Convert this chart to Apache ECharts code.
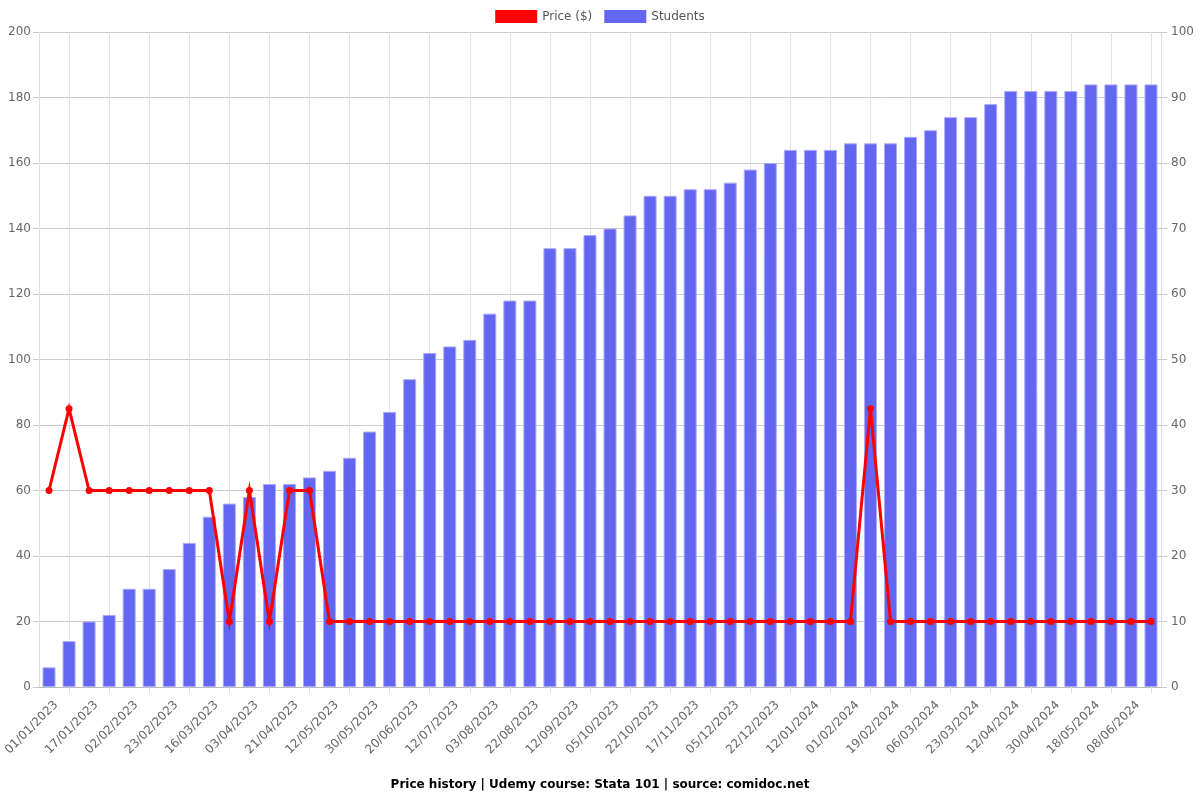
<!DOCTYPE html>
<html>
<head>
<meta charset="utf-8">
<script src="https://cdn.jsdelivr.net/npm/echarts@6/dist/echarts.min.js"></script>
<style>html,body{margin:0;padding:0;background:#fff}#c{width:1200px;height:800px}</style>
</head>
<body>
<div id="c"></div>
<script>
const categories = [
  '01/01/2023','09/01/2023','17/01/2023','25/01/2023','02/02/2023','12/02/2023','23/02/2023','05/03/2023',
  '16/03/2023','25/03/2023','03/04/2023','12/04/2023','21/04/2023','01/05/2023','12/05/2023','21/05/2023',
  '30/05/2023','09/06/2023','20/06/2023','01/07/2023','12/07/2023','23/07/2023','03/08/2023','13/08/2023',
  '22/08/2023','01/09/2023','12/09/2023','23/09/2023','05/10/2023','13/10/2023','22/10/2023','03/11/2023',
  '17/11/2023','26/11/2023','05/12/2023','13/12/2023','22/12/2023','01/01/2024','12/01/2024','22/01/2024',
  '01/02/2024','10/02/2024','19/02/2024','26/02/2024','06/03/2024','14/03/2024','23/03/2024','02/04/2024',
  '12/04/2024','21/04/2024','30/04/2024','09/05/2024','18/05/2024','28/05/2024','08/06/2024','18/06/2024'
];
const priceValues = [
  60,85,60,60,60,60,60,60,60,20,60,20,60,60,20,20,
  20,20,20,20,20,20,20,20,20,20,20,20,20,20,20,20,
  20,20,20,20,20,20,20,20,20,85,20,20,20,20,20,20,
  20,20,20,20,20,20,20,20
];
const studentValues = [
  3,7,10,11,15,15,18,22,26,28,29,31,31,32,33,35,
  39,42,47,51,52,53,57,59,59,67,67,69,70,72,75,75,
  76,76,77,79,80,82,82,82,83,83,83,84,85,87,87,89,
  91,91,91,91,92,92,92,92
];
const titleText = 'Price history | Udemy course: Stata 101 | source: comidoc.net';

const font = 'DejaVu Sans';
const chart = echarts.init(document.getElementById('c'), null, {renderer: 'canvas'});
chart.setOption({
  animation: false,
  textStyle: {fontFamily: font},
  title: {
    text: titleText,
    left: 'center',
    bottom: 4,
    textStyle: {fontFamily: font, fontSize: 12, fontWeight: 'bold', color: '#000'}
  },
  legend: {
    top: 5,
    left: 'center',
    itemWidth: 42,
    itemHeight: 13,
    itemGap: 12,
    textStyle: {fontFamily: font, fontSize: 12, color: '#555'},
    data: [
      {name: 'Price ($)', icon: 'rect', itemStyle: {color: '#ff0000', borderWidth: 0}},
      {name: 'Students', icon: 'rect', itemStyle: {color: '#6366f1', borderWidth: 0}}
    ]
  },
  grid: {left: 39, right: 39, top: 32, bottom: 113, containLabel: false, outerBoundsMode: 'none'},
  xAxis: {
    type: 'category',
    data: categories,
    boundaryGap: true,
    axisLine: {lineStyle: {color: '#bbb'}},
    axisTick: {show: true, alignWithLabel: true, interval: (i) => i % 2 === 1, length: 6, lineStyle: {color: '#ddd'}},
    splitLine: {show: true, alignWithLabel: true, interval: (i) => i % 2 === 1, lineStyle: {color: '#e2e2e2'}},
    axisLabel: {
      interval: 0, rotate: 45, fontFamily: font, fontSize: 12, color: '#666', margin: 9,
      showMinLabel: true, showMaxLabel: true, hideOverlap: false,
      formatter: (v, i) => (i % 2 === 0 ? '{s| }\n{t|' + v + '}' : ''),
      rich: {
        s: {fontSize: 12, lineHeight: 20},
        t: {fontFamily: font, fontSize: 12, color: '#666', lineHeight: 14}
      }
    }
  },
  yAxis: [
    {
      type: 'value', min: 0, max: 200, interval: 20, position: 'left',
      axisLine: {show: true, lineStyle: {color: '#ddd'}},
      axisTick: {show: true, length: 6, lineStyle: {color: '#ccc'}},
      splitLine: {show: true, lineStyle: {color: '#ccc'}},
      axisLabel: {fontFamily: font, fontSize: 12, color: '#666', margin: 8}
    },
    {
      type: 'value', min: 0, max: 100, interval: 10, position: 'right',
      axisLine: {show: true, lineStyle: {color: '#ddd'}},
      axisTick: {show: true, length: 6, lineStyle: {color: '#ccc'}},
      splitLine: {show: false},
      axisLabel: {fontFamily: font, fontSize: 12, color: '#666', margin: 10}
    }
  ],
  series: [
    {
      name: 'Price ($)',
      type: 'line',
      yAxisIndex: 0,
      data: priceValues,
      z: 5,
      symbol: 'circle',
      symbolSize: 7,
      itemStyle: {color: '#ff0000'},
      lineStyle: {color: '#ff0000', width: 3, join: 'miter'}
    },
    {
      name: 'Students',
      type: 'bar',
      yAxisIndex: 1,
      data: studentValues,
      barWidth: 13,
      z: 2,
      itemStyle: {color: '#6366f1', borderColor: '#a9abf7', borderWidth: 1}
    }
  ]
});
</script>
</body>
</html>
